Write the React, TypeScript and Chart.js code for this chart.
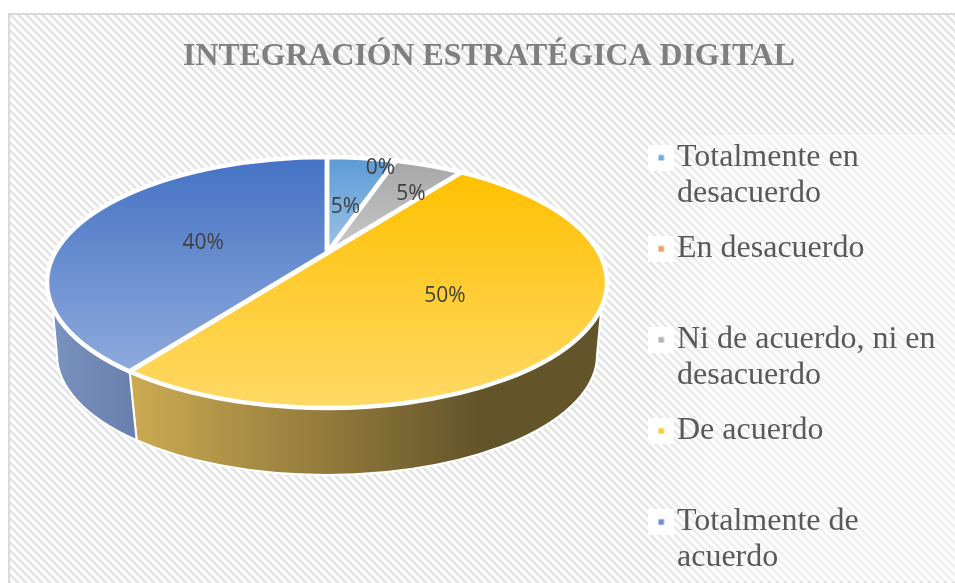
import React, { useEffect, useRef } from "react";
import { Chart, registerables } from "chart.js";

Chart.register(...registerables);

const titleText = "INTEGRACIÓN ESTRATÉGICA DIGITAL";
const categories = ["Totalmente en desacuerdo", "En desacuerdo", "Ni de acuerdo, ni en desacuerdo", "De acuerdo", "Totalmente de acuerdo"];
const legendLines = [["Totalmente en", "desacuerdo"], ["En desacuerdo", ""], ["Ni de acuerdo, ni en", "desacuerdo"], ["De acuerdo", ""], ["Totalmente de", "acuerdo"]];
const values = [5, 0, 5, 50, 40];

const topColors = ["#5B9BD5", "#ED7D31", "#A5A5A5", "#FFC000", "#4472C4"];
const lowColors = ["#9DC3E6", "#F4B183", "#C9C9C9", "#FFD966", "#8FAADC"];
const markerColors = ["#7AA9DC", "#F49A62", "#B5B5B5", "#FFCB33", "#6F8FD2"];
const wallLeft = ["#7F97C2", "#7F97C2", "#7F97C2", "#CCAB52", "#7A92BF"];
const wallRight = ["#64542A", "#64542A", "#64542A", "#64542A", "#6A80AE"];

const FRAME_X = 8, FRAME_Y = 13;
// perspective projection of the pie disc onto the canvas
const APEX_X = 327 - FRAME_X, APEX_Y = 253 - FRAME_Y, B = 272, A = 118.6, K = 0.235;
const TOP = { cx: APEX_X, cy: 282.5 - FRAME_Y, rx: 280, ry: 125.5 };
const BOT = { cx: APEX_X, cy: 355 - FRAME_Y, rx: 270, ry: 120 };
const SIL = 0.2;
const labelNudges = [[-4, 16], [9, -25], [18, -3], [-26, -3], [25, 11]];

function project(theta: number, f = 1) {
  const u = Math.sin(theta) * f, v = -Math.cos(theta) * f;
  const w = 1 - K * v;
  return { x: APEX_X + (B * u) / w, y: APEX_Y + (A * v) / w };
}
function paramOf(theta: number) {
  const p = project(theta);
  return Math.atan2((p.y - TOP.cy) / TOP.ry, (p.x - TOP.cx) / TOP.rx);
}
function sliceAngles(arc: any) {
  const th1 = arc.startAngle + Math.PI / 2, th2 = arc.endAngle + Math.PI / 2;
  const t1 = paramOf(th1);
  let t2 = paramOf(th2);
  while (t2 < t1) t2 += Math.PI * 2;
  return { th1, th2, t1, t2 };
}

const pie3d = {
  id: "pie3d",
  afterLayout(chart: any) {
    const lg = chart.legend;
    const pad = lg.options.labels.padding;
    lg.left = 660 - FRAME_X - pad;
    lg.top = 157.5 - FRAME_Y - 16 - pad;
    lg.right = chart.width;
    lg.bottom = chart.height + 200;
  },
  beforeDraw(chart: any) {
    const ctx = chart.ctx;
    ctx.save();
    const g = ctx.createLinearGradient(640 - FRAME_X, 0, 730 - FRAME_X, 0);
    g.addColorStop(0, "rgba(255,255,255,0)");
    g.addColorStop(1, "rgba(255,255,255,0.45)");
    ctx.fillStyle = g;
    ctx.fillRect(640 - FRAME_X, 135 - FRAME_Y, chart.width, 581 - 135);
    ctx.restore();
  },
  beforeDatasetsDraw(chart: any) {
    const ctx = chart.ctx;
    const arcs = chart.getDatasetMeta(0).data;
    ctx.save();
    // side walls
    arcs.forEach((arc: any, i: number) => {
      if (arc.endAngle - arc.startAngle <= 0) return;
      const { t1, t2 } = sliceAngles(arc);
      const a = Math.max(t1, SIL), b = Math.min(t2, Math.PI - SIL);
      if (b <= a) return;
      const s1 = a === SIL ? 0 : a, s2 = b === Math.PI - SIL ? Math.PI : b;
      ctx.beginPath();
      ctx.ellipse(TOP.cx, TOP.cy, TOP.rx, TOP.ry, 0, a, b);
      ctx.ellipse(BOT.cx, BOT.cy, BOT.rx, BOT.ry, 0, s2, s1, true);
      ctx.closePath();
      const x0 = TOP.cx + TOP.rx * Math.cos(b), x1 = TOP.cx + TOP.rx * Math.cos(a);
      const g = ctx.createLinearGradient(x0, 0, i === 3 ? 480 - FRAME_X : x1, 0);
      g.addColorStop(0, wallLeft[i]);
      g.addColorStop(1, wallRight[i]);
      ctx.fillStyle = g;
      ctx.fill();
      ctx.strokeStyle = "#FFFFFF";
      ctx.lineWidth = 2;
      ctx.lineJoin = "round";
      ctx.stroke();
    });
    // top face
    const paths: Path2D[] = [];
    arcs.forEach((arc: any, i: number) => {
      if (arc.endAngle - arc.startAngle <= 0) return;
      const { th1, t1, t2 } = sliceAngles(arc);
      const p = new Path2D();
      p.moveTo(APEX_X, APEX_Y);
      const s = project(th1);
      p.lineTo(s.x, s.y);
      p.ellipse(TOP.cx, TOP.cy, TOP.rx, TOP.ry, 0, t1, t2);
      p.closePath();
      const yTop = i === 3 ? s.y : TOP.cy - TOP.ry;
      const yBot = i === 3 ? TOP.cy + TOP.ry : i === 4 ? s.y : APEX_Y;
      const g = ctx.createLinearGradient(0, yTop, 0, yBot);
      g.addColorStop(0, topColors[i]);
      g.addColorStop(1, lowColors[i]);
      ctx.fillStyle = g;
      ctx.fill(p);
      paths.push(p);
    });
    ctx.strokeStyle = "#FFFFFF";
    ctx.lineWidth = 4.5;
    ctx.lineJoin = "round";
    paths.forEach((p) => ctx.stroke(p));
    // data labels
    ctx.fillStyle = "#404040";
    ctx.font = "21px 'Open Sans'";
    ctx.textAlign = "center";
    ctx.textBaseline = "middle";
    arcs.forEach((arc: any, i: number) => {
      const mid = (arc.startAngle + arc.endAngle) / 2 + Math.PI / 2;
      const p = project(mid, 0.6);
      ctx.fillText(values[i] + "%", p.x + labelNudges[i][0], p.y + labelNudges[i][1]);
    });
    ctx.restore();
    return false;
  },
};

function marker(color: string) {
  const c = document.createElement("canvas");
  c.width = 26;
  c.height = 26;
  const x = c.getContext("2d")!;
  x.fillStyle = "#FFFFFF";
  x.fillRect(0, 0, 26, 26);
  x.fillStyle = color;
  x.fillRect(11, 10.5, 5.5, 5.5);
  return c;
}

export default function App() {
  const ref = useRef<HTMLCanvasElement>(null);
  useEffect(() => {
    const chart = new Chart(ref.current!, {
      type: "pie",
      data: {
        labels: categories,
        datasets: [{ data: values, backgroundColor: topColors, borderColor: "#FFFFFF", borderWidth: 3 }],
      },
      plugins: [pie3d],
      options: {
        animation: false,
        responsive: false,
        layout: { padding: 0 },
        plugins: {
          tooltip: { enabled: false },
          title: {
            display: true,
            text: titleText,
            color: "#7F7F7F",
            font: { family: "'Liberation Serif'", size: 31.8, weight: "bold", lineHeight: 1.2 },
            padding: { top: 24.5, bottom: 0 },
          },
          legend: {
            display: true,
            position: "right",
            align: "start",
            labels: {
              usePointStyle: true,
              pointStyleWidth: 1,
              color: "#595959",
              padding: 19.7,
              font: { family: "'Liberation Serif'", size: 32, lineHeight: 1.115 },
              generateLabels: () =>
                legendLines.map((lines, i) => ({
                  text: lines,
                  fontColor: "#595959",
                  fillStyle: markerColors[i],
                  strokeStyle: markerColors[i],
                  lineWidth: 0,
                  hidden: false,
                  index: i,
                  pointStyle: marker(markerColors[i]),
                })),
            },
          },
        },
      } as any,
    });
    return () => chart.destroy();
  }, []);
  return (
    <div style={{ position: "fixed", left: 0, top: 0, width: 955, height: 583, overflow: "hidden", background: "#fff" }}>
      <div
        style={{
          position: "absolute",
          left: FRAME_X,
          top: FRAME_Y,
          width: 962,
          height: 610,
          outline: "2px solid #D9D9D9",
          outlineOffset: -2,
          background: "repeating-linear-gradient(45deg, #E6E6E6 0, #E6E6E6 2.83px, #FFFFFF 2.83px, #FFFFFF 5.66px)",
        }}
      >
        <canvas ref={ref} width={962} height={610} style={{ display: "block" }} />
      </div>
    </div>
  );
}
